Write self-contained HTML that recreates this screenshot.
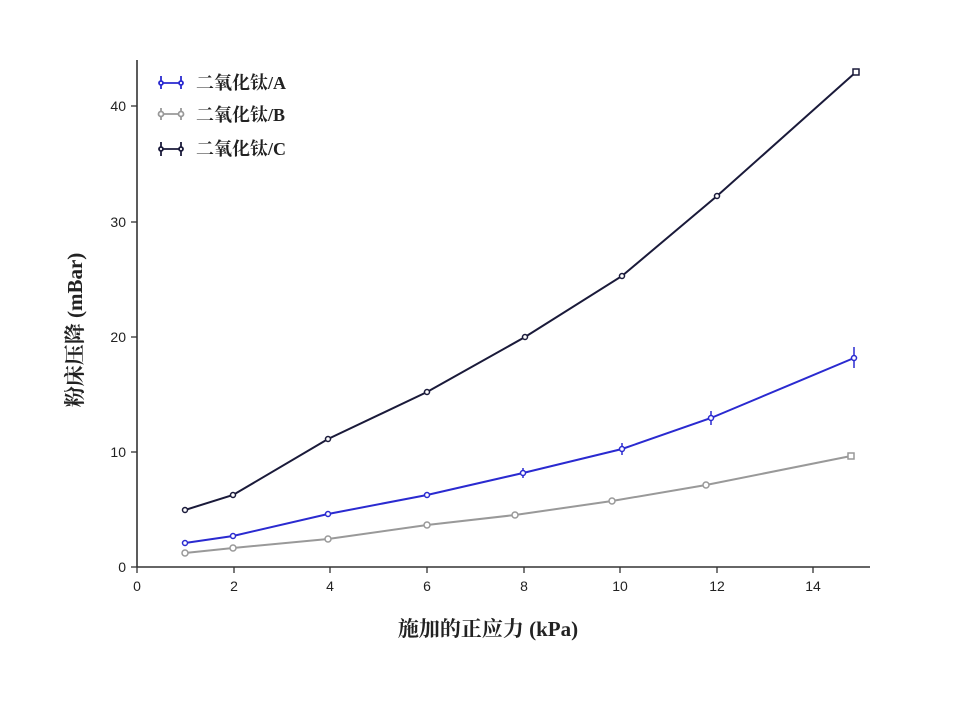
<!DOCTYPE html><html><head><meta charset="utf-8"><style>body{margin:0;background:#fff}</style></head><body>
<svg width="961" height="700" xmlns="http://www.w3.org/2000/svg" font-family="Liberation Sans, sans-serif">
<rect width="961" height="700" fill="#fff"/>
<g stroke="#333" stroke-width="1.6" fill="none">
<line x1="137" y1="60" x2="137" y2="567"/><line x1="137" y1="567" x2="870" y2="567"/>
<g stroke-width="1.3">
<line x1="137" y1="567" x2="137" y2="573"/><line x1="234" y1="567" x2="234" y2="573"/><line x1="330" y1="567" x2="330" y2="573"/><line x1="427" y1="567" x2="427" y2="573"/><line x1="524" y1="567" x2="524" y2="573"/><line x1="620" y1="567" x2="620" y2="573"/><line x1="717" y1="567" x2="717" y2="573"/><line x1="813" y1="567" x2="813" y2="573"/>
<line x1="131" y1="567" x2="137" y2="567"/><line x1="131" y1="452" x2="137" y2="452"/><line x1="131" y1="337" x2="137" y2="337"/><line x1="131" y1="222" x2="137" y2="222"/><line x1="131" y1="106" x2="137" y2="106"/>
</g></g>
<g font-size="14" fill="#222" text-anchor="middle">
<text x="137" y="591">0</text><text x="234" y="591">2</text><text x="330" y="591">4</text><text x="427" y="591">6</text><text x="524" y="591">8</text><text x="620" y="591">10</text><text x="717" y="591">12</text><text x="813" y="591">14</text>
</g>
<g font-size="14" fill="#222" text-anchor="end">
<text x="126" y="572">0</text><text x="126" y="457">10</text><text x="126" y="342">20</text><text x="126" y="227">30</text><text x="126" y="111">40</text>
</g>
<text x="488" y="636" font-size="21" font-weight="bold" text-anchor="middle" fill="#222" font-family="Liberation Serif, Noto Serif CJK SC, serif">施加的正应力 (kPa)</text>
<text transform="translate(82,330) rotate(-90)" font-size="21" font-weight="bold" text-anchor="middle" fill="#222" font-family="Liberation Serif, Noto Serif CJK SC, serif">粉床压降 (mBar)</text>
<g fill="#fff" stroke-width="2">
<polyline fill="none" stroke="#1a1a3a" points="185,510 233,495 328,439 427,392 525,337 622,276 717,196 856,72"/>
<g stroke="#1a1a3a" stroke-width="1.5"><circle cx="185" cy="510" r="2.5"/><circle cx="233" cy="495" r="2.5"/><circle cx="328" cy="439" r="2.5"/><circle cx="427" cy="392" r="2.5"/><circle cx="525" cy="337" r="2.5"/><circle cx="622" cy="276" r="2.5"/><circle cx="717" cy="196" r="2.5"/><rect x="853" y="69" width="6" height="6"/></g>
<polyline fill="none" stroke="#2a2ad0" points="185,543 233,536 328,514 427,495 523,473 622,449 711,418 854,358"/>
<g stroke="#2a2ad0" stroke-width="1.5"><line x1="711" y1="411" x2="711" y2="425"/><line x1="854" y1="347" x2="854" y2="368"/><line x1="622" y1="443" x2="622" y2="455"/><line x1="523" y1="468" x2="523" y2="478"/>
<circle cx="185" cy="543" r="2.5"/><circle cx="233" cy="536" r="2.5"/><circle cx="328" cy="514" r="2.5"/><circle cx="427" cy="495" r="2.5"/><circle cx="523" cy="473" r="2.5"/><circle cx="622" cy="449" r="2.5"/><circle cx="711" cy="418" r="2.5"/><circle cx="854" cy="358" r="2.5"/></g>
<polyline fill="none" stroke="#999" points="185,553 233,548 328,539 427,525 515,515 612,501 706,485 851,456"/>
<g stroke="#999" stroke-width="1.5"><circle cx="185" cy="553" r="3"/><circle cx="233" cy="548" r="3"/><circle cx="328" cy="539" r="3"/><circle cx="427" cy="525" r="3"/><circle cx="515" cy="515" r="3"/><circle cx="612" cy="501" r="3"/><circle cx="706" cy="485" r="3"/><rect x="848" y="453" width="6" height="6"/></g>
</g>
<g stroke-width="1.8" fill="none">
<g stroke="#2a2ad0"><line x1="161" y1="83" x2="181" y2="83"/><line x1="161" y1="76" x2="161" y2="89"/><line x1="181" y1="76" x2="181" y2="89"/><circle cx="161" cy="83" r="2" fill="#fff"/><circle cx="181" cy="83" r="2" fill="#fff"/></g>
<g stroke="#999"><line x1="161" y1="114" x2="181" y2="114"/><line x1="161" y1="108" x2="161" y2="120"/><line x1="181" y1="108" x2="181" y2="120"/><circle cx="161" cy="114" r="2.5" fill="#fff"/><circle cx="181" cy="114" r="2.5" fill="#fff"/></g>
<g stroke="#1a1a3a"><line x1="161" y1="149" x2="181" y2="149"/><line x1="161" y1="142" x2="161" y2="156"/><line x1="181" y1="142" x2="181" y2="156"/><circle cx="161" cy="149" r="2" fill="#fff"/><circle cx="181" cy="149" r="2" fill="#fff"/></g>
</g>
<g font-size="18" font-weight="bold" fill="#222" font-family="Liberation Serif, Noto Serif CJK SC, serif">
<text x="196" y="89">二氧化钛/A</text><text x="196" y="121">二氧化钛/B</text><text x="196" y="155">二氧化钛/C</text>
</g>
</svg></body></html>
